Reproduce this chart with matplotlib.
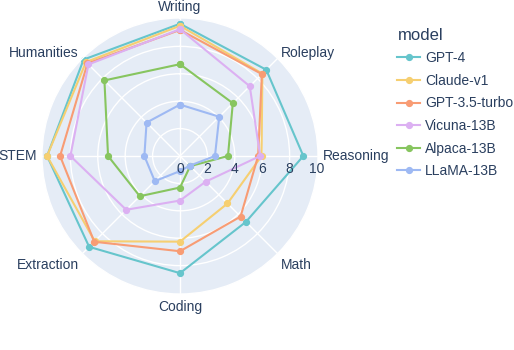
import numpy as np
import matplotlib
matplotlib.use("Agg")
import matplotlib.pyplot as plt

plt.rcParams['font.family'] = ['Liberation Sans', 'DejaVu Sans']

categories = ["Writing", "Roleplay", "Reasoning", "Math", "Coding", "Extraction", "STEM", "Humanities"]
models = ["GPT-4", "Claude-v1", "GPT-3.5-turbo", "Vicuna-13B", "Alpaca-13B", "LLaMA-13B"]

gpt4 = [9.65, 8.9, 9.0, 6.8, 8.55, 9.375, 9.7, 9.95]
claude = [9.5, 8.5, 5.95, 4.9, 6.25, 8.8, 9.7, 9.7]
gpt35 = [9.2, 8.45, 5.7, 6.25, 6.95, 8.85, 8.75, 9.55]
vicuna = [9.25, 7.2, 5.85, 2.65, 3.25, 5.55, 8.0, 9.45]
alpaca = [6.7, 5.45, 3.5, 1.05, 2.3, 4.15, 5.25, 7.8]
llama = [3.75, 4.05, 2.55, 1.0, 1.1, 2.6, 2.6, 3.45]

colors = ['#66C5CC', '#F6CF71', '#F89C74', '#DCB0F2', '#87C55F', '#9EB9F3']
series = [gpt4, claude, gpt35, vicuna, alpaca, llama]
radial_ticks = [0, 2, 4, 6, 8, 10]

text_color = '#2a3f5f'
rmax = 10.07

fig = plt.figure(figsize=(5.14, 3.5), dpi=100)
ax = fig.add_axes([42 / 514, 1 - 294 / 350, 276 / 514, 276 / 350], projection='polar')
ax.set_theta_offset(np.pi / 2)
ax.set_theta_direction(-1)
ax.set_facecolor('#E5ECF6')

angles = np.linspace(0, 2 * np.pi, len(categories), endpoint=False)

for name, vals, c in zip(models, series, colors):
    a = np.append(angles, angles[0])
    v = np.append(vals, vals[0])
    ax.plot(a, v, color=c, lw=1.5, marker='o', ms=4.2, label=name, clip_on=False)

ax.set_ylim(0, rmax)
ax.set_yticks(radial_ticks[1:-1])
ax.set_yticklabels([])
ax.set_xticks(angles)
ax.set_xticklabels([])
ax.grid(color='white', lw=1.0)
ax.spines['polar'].set_color('white')
ax.spines['polar'].set_linewidth(1.0)
ax.tick_params(length=0)

# radial tick labels along the Reasoning axis, just below it
for t in radial_ticks:
    ax.annotate(str(t), xy=(np.pi / 2, t), xytext=(0, -4.5), textcoords='offset points',
                ha='center', va='top', fontsize=10, color=text_color)

# category labels outside the circle (centred vertically, offsets in points)
for ang, cat in zip(angles, categories):
    dx = np.sin(ang)
    dy = np.cos(ang)
    if abs(dx) < 0.1:
        ha = 'center'
        ox = 0
        oy = 7.9 if dy > 0 else -9.4
    elif abs(dy) < 0.1:
        ha = 'left' if dx > 0 else 'right'
        ox = 3.5 * np.sign(dx)
        oy = 0
    else:
        ha = 'left' if dx > 0 else 'right'
        ox = 2.5 * np.sign(dx)
        oy = 3.9 if dy > 0 else -8.2
    ax.annotate(cat, xy=(ang, rmax), xytext=(ox, oy), textcoords='offset points',
                ha=ha, va='center', fontsize=10, color=text_color, annotation_clip=False)

leg = fig.legend(loc='upper left', bbox_to_anchor=(0.749, 0.957), frameon=False,
                 title='model', fontsize=10, title_fontsize=12, handlelength=1.6,
                 handletextpad=0.4, labelspacing=0.62, alignment='left')
for txt in leg.get_texts():
    txt.set_color(text_color)
leg.get_title().set_color(text_color)

fig.savefig("out.png", dpi=100)
